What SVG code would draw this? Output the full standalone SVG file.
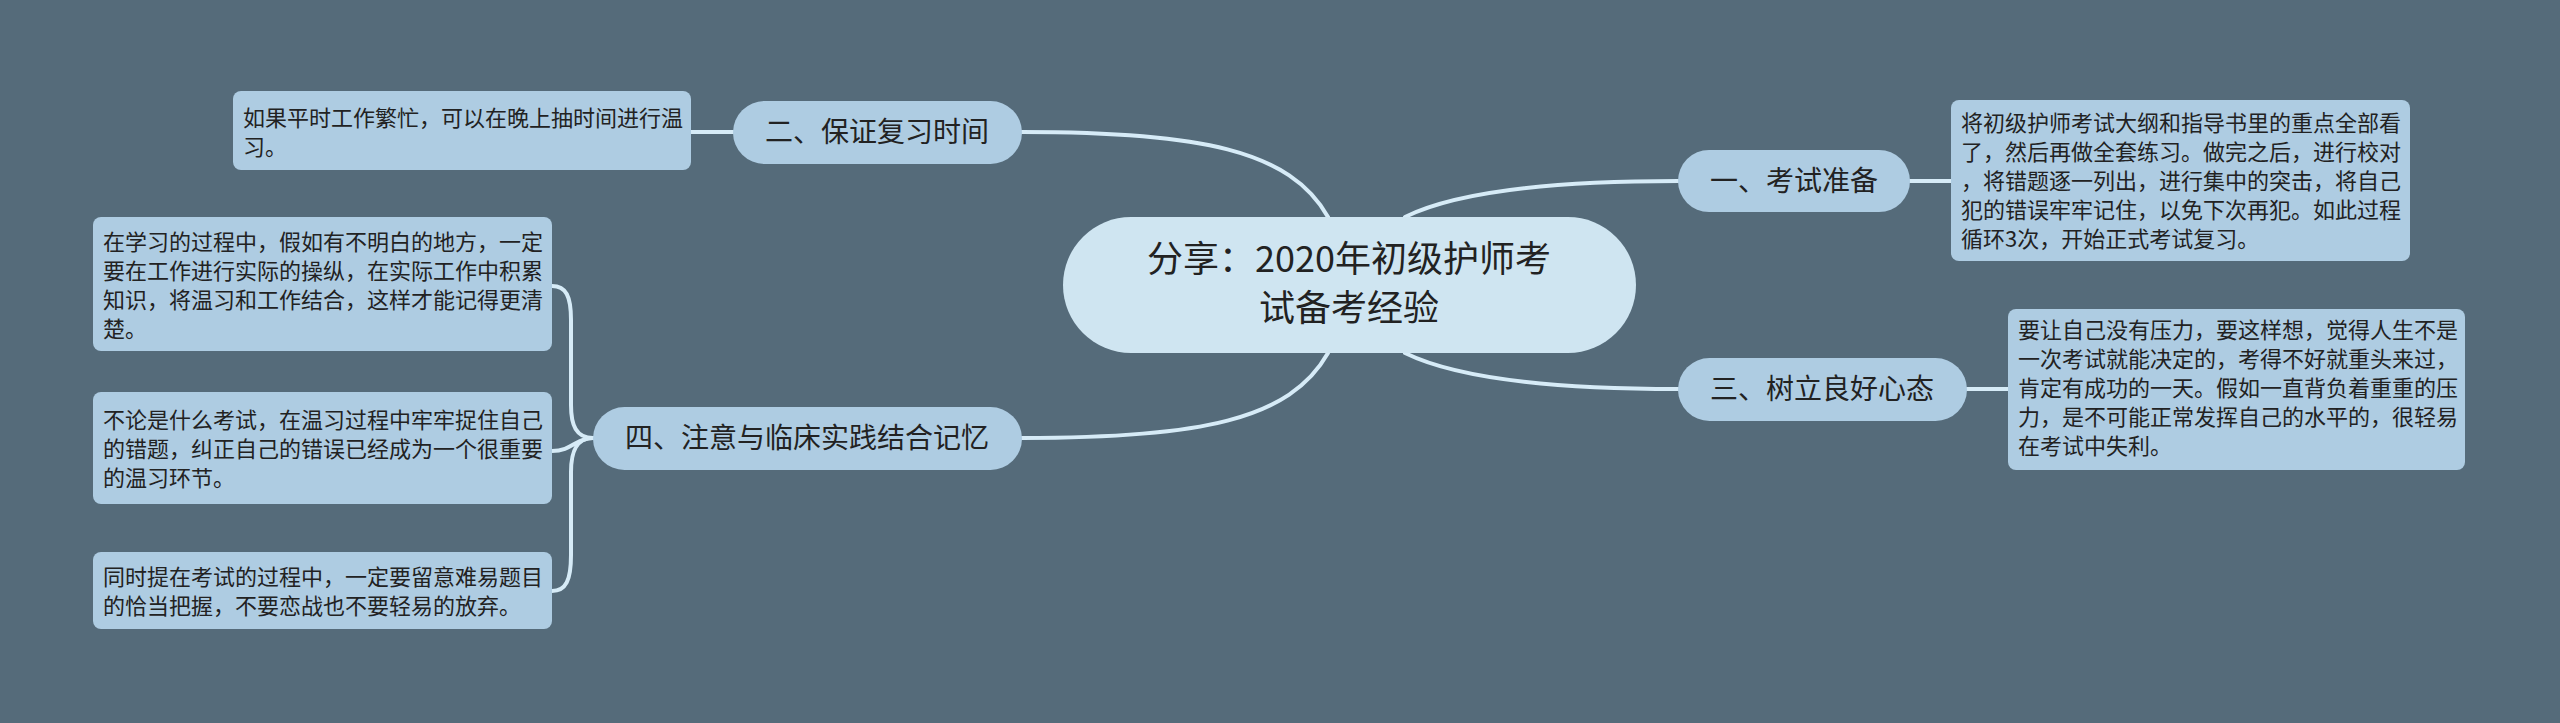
<svg xmlns="http://www.w3.org/2000/svg" width="2560" height="723" viewBox="0 0 2560 723">
<style>
.bg{fill:#556b7a}
.c{fill:none;stroke:#d6ebf7;stroke-width:4;stroke-linecap:round}
.main{fill:#cfe5f1}
.br{fill:#aecce2}
.leaf{fill:#aecce2}
.tm{font-family:"Noto Sans CJK SC","Noto Sans",sans-serif;font-size:36px;fill:#222;text-anchor:middle}
.tb{font-family:"Noto Sans CJK SC","Noto Sans",sans-serif;font-size:28px;fill:#222;text-anchor:middle}
.tl{font-family:"Noto Sans CJK SC","Noto Sans",sans-serif;font-size:22px;fill:#222}
</style>
<rect class="bg" x="0" y="0" width="2560" height="723"/>
<g id="connectors">
<path class="c" d="M1022,132 C1200,132 1290,150 1328,217"/>
<path class="c" d="M1405,217 C1460,190 1560,181 1678,181"/>
<path class="c" d="M1022,438 C1200,438 1290,420 1328,353"/>
<path class="c" d="M1405,353 C1460,380 1560,389 1678,389"/>
<path class="c" d="M733,132 L691,132"/>
<path class="c" d="M1910,181 L1951,181"/>
<path class="c" d="M1967,389 L2008,389"/>
<path class="c" d="M593,438 C576,438 571,425 571,405 L571,320 C571,296 566,286 552,286"/>
<path class="c" d="M593,438 C576,438 572,451 552,451"/>
<path class="c" d="M593,438 C576,438 571,452 571,472 L571,555 C571,580 566,591 552,591"/>
</g>
<g id="central">
<rect class="main" x="1063" y="217" width="573" height="136" rx="68"/>
<text class="tm" x="1349" y="272">分享：2020年初级护师考</text>
<text class="tm" x="1349" y="321">试备考经验</text>
</g>
<g id="b2">
<rect class="br" x="733" y="101" width="289" height="63" rx="31.5"/>
<text class="tb" x="877" y="142">二、保证复习时间</text>
</g>
<g id="b2c">
<rect class="leaf" x="233" y="91" width="458" height="79" rx="8"/>
<text class="tl" x="243" y="126">如果平时工作繁忙，可以在晚上抽时间进行温</text>
<text class="tl" x="243" y="155">习。</text>
</g>
<g id="b1">
<rect class="br" x="1678" y="150" width="232" height="62" rx="31"/>
<text class="tb" x="1794" y="191">一、考试准备</text>
</g>
<g id="b1c">
<rect class="leaf" x="1951" y="100" width="459" height="161" rx="8"/>
<text class="tl" x="1961" y="131">将初级护师考试大纲和指导书里的重点全部看</text>
<text class="tl" x="1961" y="160">了，然后再做全套练习。做完之后，进行校对</text>
<text class="tl" x="1961" y="189">，将错题逐一列出，进行集中的突击，将自己</text>
<text class="tl" x="1961" y="218">犯的错误牢牢记住，以免下次再犯。如此过程</text>
<text class="tl" x="1961" y="247">循环3次，开始正式考试复习。</text>
</g>
<g id="b3">
<rect class="br" x="1678" y="358" width="289" height="63" rx="31.5"/>
<text class="tb" x="1822" y="399">三、树立良好心态</text>
</g>
<g id="b3c">
<rect class="leaf" x="2008" y="309" width="457" height="161" rx="8"/>
<text class="tl" x="2018" y="338">要让自己没有压力，要这样想，觉得人生不是</text>
<text class="tl" x="2018" y="367">一次考试就能决定的，考得不好就重头来过，</text>
<text class="tl" x="2018" y="396">肯定有成功的一天。假如一直背负着重重的压</text>
<text class="tl" x="2018" y="425">力，是不可能正常发挥自己的水平的，很轻易</text>
<text class="tl" x="2018" y="454">在考试中失利。</text>
</g>
<g id="b4">
<rect class="br" x="593" y="407" width="429" height="63" rx="31.5"/>
<text class="tb" x="807" y="448">四、注意与临床实践结合记忆</text>
</g>
<g id="b4a">
<rect class="leaf" x="93" y="217" width="459" height="134" rx="8"/>
<text class="tl" x="103" y="250">在学习的过程中，假如有不明白的地方，一定</text>
<text class="tl" x="103" y="279">要在工作进行实际的操纵，在实际工作中积累</text>
<text class="tl" x="103" y="308">知识，将温习和工作结合，这样才能记得更清</text>
<text class="tl" x="103" y="337">楚。</text>
</g>
<g id="b4b">
<rect class="leaf" x="93" y="392" width="459" height="112" rx="8"/>
<text class="tl" x="103" y="428">不论是什么考试，在温习过程中牢牢捉住自己</text>
<text class="tl" x="103" y="457">的错题，纠正自己的错误已经成为一个很重要</text>
<text class="tl" x="103" y="486">的温习环节。</text>
</g>
<g id="b4c">
<rect class="leaf" x="93" y="552" width="459" height="77" rx="8"/>
<text class="tl" x="103" y="585">同时提在考试的过程中，一定要留意难易题目</text>
<text class="tl" x="103" y="614">的恰当把握，不要恋战也不要轻易的放弃。</text>
</g>
</svg>
